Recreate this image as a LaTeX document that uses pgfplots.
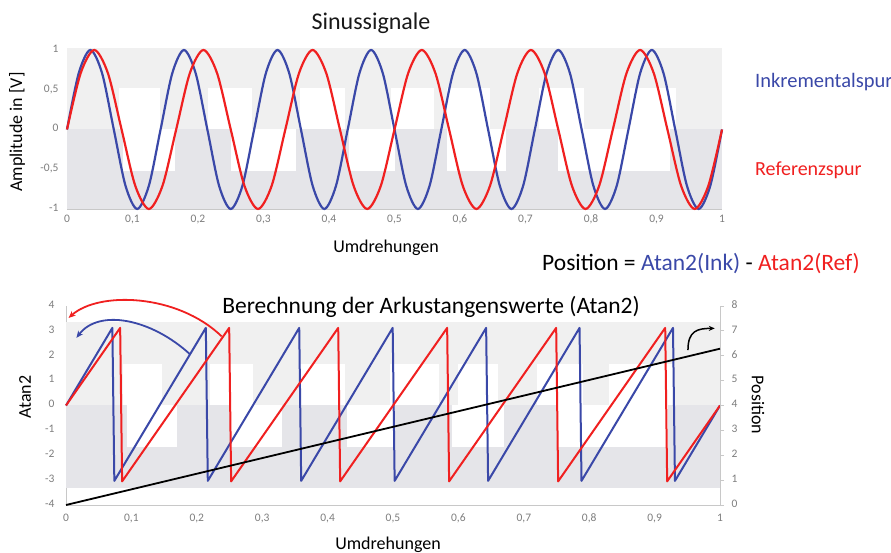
\documentclass[border=0pt]{standalone}
\usepackage{fontspec}
\setmainfont{Carlito}
\usepackage{pgfplots}
\pgfplotsset{compat=1.18}
\usetikzlibrary{arrows.meta}
\definecolor{ink}{RGB}{58,72,168}
\definecolor{refc}{RGB}{240,32,32}
\definecolor{bgA}{RGB}{240,240,240}
\definecolor{bgC}{RGB}{229,229,233}
\definecolor{ticklab}{RGB}{125,125,125}
\definecolor{axl}{RGB}{200,200,200}
\newcommand{\fs}[1]{\fontsize{#1bp}{#1bp}\selectfont}
\pgfplotsset{
  base/.style={
    scale only axis, clip=false,
    xmin=0, xmax=1,
    axis line style={draw=axl, line width=0.9pt, -},
    tick label style={font=\fs{11.5}, text=ticklab},
    typeset ticklabels with strut,
    /pgf/number format/assume math mode=true,
    /pgf/number format/use comma,
    xtick={0,0.1,0.2,0.3,0.4,0.5,0.6,0.7,0.8,0.9,1},
  }
}
\begin{document}
\begin{tikzpicture}[x=1bp,y=1bp]
\path[use as bounding box] (0,0) rectangle (891,553);

% ---------------- top panel ----------------
\begin{axis}[base, at={(67bp,344bp)}, anchor=south west,
  width=655bp, height=159bp,
  ymin=-1, ymax=1, ytick={-1,-0.5,0,0.5,1},
  axis x line*=bottom, axis y line*=left,
  major tick length=0pt,
  xticklabel style={yshift=-2bp},
  yticklabel style={xshift=-5bp},
]
\fill[bgA] (axis cs:0,0.52) rectangle (axis cs:1,1.03);
\fill[bgA] (axis cs:0,0) rectangle (axis cs:1,0.52);
\fill[white] (axis cs:0.08,0) rectangle (axis cs:0.142,0.52);
\fill[white] (axis cs:0.215,0) rectangle (axis cs:0.282,0.52);
\fill[white] (axis cs:0.356,0) rectangle (axis cs:0.424,0.52);
\fill[white] (axis cs:0.495,0) rectangle (axis cs:0.56,0.52);
\fill[white] (axis cs:0.58,0) rectangle (axis cs:0.646,0.52);
\fill[white] (axis cs:0.72,0) rectangle (axis cs:0.79,0.52);
\fill[white] (axis cs:0.86,0) rectangle (axis cs:0.93,0.52);
\fill[bgC] (axis cs:0,-1) rectangle (axis cs:1,0);
\fill[white] (axis cs:0.086,-0.52) rectangle (axis cs:0.165,0);
\fill[white] (axis cs:0.25,-0.52) rectangle (axis cs:0.35,0);
\fill[white] (axis cs:0.43,-0.52) rectangle (axis cs:0.5,0);
\fill[white] (axis cs:0.58,-0.52) rectangle (axis cs:0.67,0);
\fill[white] (axis cs:0.75,-0.52) rectangle (axis cs:0.92,0);
\addplot[ink, line width=2.2bp, smooth] coordinates {
(0,0) (0.017857,0.7071) (0.035714,1) (0.053571,0.7071) (0.071429,0) (0.089286,-0.7071) (0.107143,-1) (0.125,-0.7071)
(0.142857,0) (0.160714,0.7071) (0.178571,1) (0.196429,0.7071) (0.214286,0) (0.232143,-0.7071) (0.25,-1) (0.267857,-0.7071)
(0.285714,0) (0.303571,0.7071) (0.321429,1) (0.339286,0.7071) (0.357143,0) (0.375,-0.7071) (0.392857,-1) (0.410714,-0.7071)
(0.428571,0) (0.446429,0.7071) (0.464286,1) (0.482143,0.7071) (0.5,0) (0.517857,-0.7071) (0.535714,-1) (0.553571,-0.7071)
(0.571429,0) (0.589286,0.7071) (0.607143,1) (0.625,0.7071) (0.642857,0) (0.660714,-0.7071) (0.678571,-1) (0.696429,-0.7071)
(0.714286,0) (0.732143,0.7071) (0.75,1) (0.767857,0.7071) (0.785714,0) (0.803571,-0.7071) (0.821429,-1) (0.839286,-0.7071)
(0.857143,0) (0.875,0.7071) (0.892857,1) (0.910714,0.7071) (0.928571,0) (0.946429,-0.7071) (0.964286,-1) (0.982143,-0.7071)
(1,0)};
\addplot[refc, line width=2.2bp, smooth] coordinates {
(0,0) (0.020833,0.7071) (0.041667,1) (0.0625,0.7071) (0.083333,0) (0.104167,-0.7071) (0.125,-1) (0.145833,-0.7071)
(0.166667,0) (0.1875,0.7071) (0.208333,1) (0.229167,0.7071) (0.25,0) (0.270833,-0.7071) (0.291667,-1) (0.3125,-0.7071)
(0.333333,0) (0.354167,0.7071) (0.375,1) (0.395833,0.7071) (0.416667,0) (0.4375,-0.7071) (0.458333,-1) (0.479167,-0.7071)
(0.5,0) (0.520833,0.7071) (0.541667,1) (0.5625,0.7071) (0.583333,0) (0.604167,-0.7071) (0.625,-1) (0.645833,-0.7071)
(0.666667,0) (0.6875,0.7071) (0.708333,1) (0.729167,0.7071) (0.75,0) (0.770833,-0.7071) (0.791667,-1) (0.8125,-0.7071)
(0.833333,0) (0.854167,0.7071) (0.875,1) (0.895833,0.7071) (0.916667,0) (0.9375,-0.7071) (0.958333,-1) (0.979167,-0.7071)
(1,0)};
\end{axis}

% ---------------- bottom panel ----------------
\begin{axis}[base, at={(66bp,48bp)}, anchor=south west,
  width=654bp, height=199bp,
  ymin=-4, ymax=4, ytick={-4,-3,-2,-1,0,1,2,3,4},
  axis x line*=bottom, axis y line*=left,
  major tick length=0pt,
  xticklabel style={yshift=-5bp},
  yticklabel style={xshift=-8bp},
]
\fill[bgA] (axis cs:0,1.68) rectangle (axis cs:1,3.37);
\fill[bgA] (axis cs:0,0) rectangle (axis cs:1,1.68);
\fill[white] (axis cs:0.087,0) rectangle (axis cs:0.147,1.68);
\fill[white] (axis cs:0.22,0) rectangle (axis cs:0.286,1.68);
\fill[white] (axis cs:0.358,0) rectangle (axis cs:0.427,1.68);
\fill[white] (axis cs:0.495,0) rectangle (axis cs:0.57,1.68);
\fill[white] (axis cs:0.6,0) rectangle (axis cs:0.66,1.68);
\fill[white] (axis cs:0.72,0) rectangle (axis cs:0.79,1.68);
\fill[white] (axis cs:0.83,0) rectangle (axis cs:0.93,1.68);
\fill[bgC] (axis cs:0,-3.3) rectangle (axis cs:1,0);
\fill[white] (axis cs:0.093,-1.65) rectangle (axis cs:0.17,0);
\fill[white] (axis cs:0.25,-1.65) rectangle (axis cs:0.33,0);
\fill[white] (axis cs:0.43,-1.65) rectangle (axis cs:0.5,0);
\fill[white] (axis cs:0.59,-1.65) rectangle (axis cs:0.67,0);
\fill[white] (axis cs:0.75,-1.65) rectangle (axis cs:0.92,0);
\addplot[ink, line width=2bp, line join=round] coordinates {
(0,0) (0.0709,3.12) (0.0739,-3.03)
(0.2138,3.12) (0.2168,-3.03)
(0.3566,3.12) (0.3596,-3.03)
(0.4995,3.12) (0.5025,-3.03)
(0.6424,3.12) (0.6454,-3.03)
(0.7852,3.12) (0.7882,-3.03)
(0.9281,3.12) (0.9311,-3.03)
(1,0)};
\addplot[refc, line width=2bp, line join=round] coordinates {
(0,0) (0.0828,3.12) (0.0858,-3.05)
(0.2495,3.12) (0.2525,-3.05)
(0.4162,3.12) (0.4192,-3.05)
(0.5828,3.12) (0.5858,-3.05)
(0.7495,3.12) (0.7525,-3.05)
(0.9162,3.12) (0.9192,-3.05)
(1,0)};
\draw[refc, line width=1.8bp, -{Stealth[length=7bp,width=6bp]}]
  (axis cs:0.238,2.78) .. controls (axis cs:0.17,4.5) and (axis cs:0.05,4.6) .. (axis cs:0.004,3.52);
\draw[ink, line width=1.8bp, -{Stealth[length=7bp,width=6bp]}]
  (axis cs:0.19,2.05) .. controls (axis cs:0.13,3.5) and (axis cs:0.05,3.9) .. (axis cs:0.016,2.72);
\draw[black, line width=1.5bp, -{Stealth[length=6bp,width=5bp]}]
  (axis cs:0.951,2.23) .. controls (axis cs:0.951,3.0) and (axis cs:0.965,3.1) .. (axis cs:0.992,3.1);
\end{axis}

\begin{axis}[base, at={(66bp,48bp)}, anchor=south west,
  width=654bp, height=199bp,
  ymin=0, ymax=8, ytick={0,1,2,3,4,5,6,7,8},
  axis x line=none, axis y line*=right,
  ytick style={draw=axl, line width=0.8pt},
  major tick length=4bp, tick align=outside,
  yticklabel style={xshift=4bp},
]
\addplot[black, line width=1.8bp] coordinates {
(0,0) (0.25,1.571) (0.5,3.142) (0.75,4.712) (1,6.283)};
\end{axis}

% ---------------- texts ----------------
\node[font=\fs{24}, text=black!90] at (371,530) {Sinussignale};
\node[font=\fs{18}, rotate=90] at (17,421) {Amplitude in [V]};
\node[font=\fs{18}] at (386,305) {Umdrehungen};
\node[font=\fs{20.5}, text=ink, anchor=west, inner sep=0pt] at (755,471) {Inkrementalspur};
\node[font=\fs{20}, text=refc, anchor=west, inner sep=0pt] at (755,383) {Referenzspur};
\node[font=\fs{23.5}, anchor=west, inner sep=0pt] at (542,289) {Position = \textcolor{ink}{Atan2(Ink)} - \textcolor{refc}{Atan2(Ref)}};
\node[font=\fs{23.5}, fill=white, inner sep=1bp] at (431,246) {Berechnung der Arkustangenswerte (Atan2)};
\node[font=\fs{18}, rotate=90] at (25,156) {Atan2};
\node[font=\fs{18}, rotate=-90] at (758,148) {Position};
\node[font=\fs{18}] at (388,8) {Umdrehungen};
\end{tikzpicture}
\end{document}
